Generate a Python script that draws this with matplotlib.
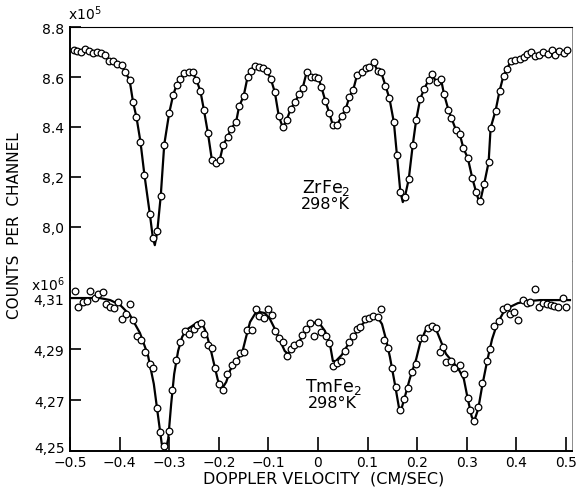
import matplotlib
matplotlib.use("Agg")
import matplotlib.pyplot as plt
from matplotlib.transforms import ScaledTranslation

# ZrFe2, 298 K (counts x 1e5)
ZR_V = [-0.492, -0.485, -0.478, -0.469, -0.461, -0.453, -0.445, -0.437, -0.429, -0.421,
        -0.413, -0.405, -0.396, -0.389, -0.380, -0.373, -0.366, -0.358, -0.350, -0.339,
        -0.333, -0.324, -0.317, -0.310, -0.300, -0.292, -0.285, -0.278, -0.270, -0.261,
        -0.253, -0.245, -0.237, -0.230, -0.222, -0.214, -0.206, -0.198, -0.191, -0.182,
        -0.176, -0.165, -0.159, -0.150, -0.142, -0.136, -0.128, -0.118, -0.110, -0.103,
        -0.095, -0.087, -0.079, -0.071, -0.063, -0.055, -0.046, -0.038, -0.031, -0.023,
        -0.015, -0.007, 0.001, 0.007, 0.015, 0.023, 0.030, 0.038, 0.048, 0.056,
        0.063, 0.071, 0.079, 0.088, 0.096, 0.103, 0.112, 0.120, 0.127, 0.136,
        0.144, 0.153, 0.159, 0.166, 0.175, 0.183, 0.191, 0.198, 0.206, 0.214,
        0.223, 0.230, 0.239, 0.248, 0.254, 0.263, 0.269, 0.278, 0.286, 0.293,
        0.302, 0.311, 0.319, 0.327, 0.335, 0.344, 0.348, 0.358, 0.366, 0.374,
        0.381, 0.389, 0.398, 0.407, 0.416, 0.422, 0.429, 0.437, 0.446, 0.454,
        0.463, 0.471, 0.478, 0.486, 0.495, 0.503]
ZR_C = [8.710, 8.706, 8.700, 8.712, 8.706, 8.697, 8.700, 8.697, 8.689, 8.665,
        8.666, 8.651, 8.650, 8.620, 8.590, 8.501, 8.439, 8.341, 8.208, 8.050,
        7.955, 7.981, 8.124, 8.329, 8.456, 8.528, 8.569, 8.592, 8.616, 8.620,
        8.620, 8.588, 8.543, 8.468, 8.376, 8.268, 8.255, 8.268, 8.329, 8.361,
        8.390, 8.421, 8.483, 8.523, 8.600, 8.626, 8.645, 8.642, 8.637, 8.626,
        8.592, 8.539, 8.443, 8.398, 8.429, 8.472, 8.501, 8.532, 8.555, 8.619,
        8.599, 8.599, 8.596, 8.559, 8.503, 8.455, 8.406, 8.406, 8.445, 8.472,
        8.519, 8.549, 8.610, 8.619, 8.637, 8.639, 8.659, 8.626, 8.622, 8.565,
        8.515, 8.418, 8.288, 8.140, 8.117, 8.191, 8.327, 8.429, 8.512, 8.552,
        8.588, 8.611, 8.579, 8.592, 8.532, 8.468, 8.436, 8.388, 8.370, 8.315,
        8.275, 8.195, 8.137, 8.101, 8.171, 8.258, 8.396, 8.465, 8.544, 8.606,
        8.633, 8.665, 8.669, 8.673, 8.680, 8.693, 8.700, 8.686, 8.689, 8.702,
        8.693, 8.710, 8.690, 8.704, 8.697, 8.709]
# fitted-curve minima that dip below the points
ZR_MIN_V = [-0.329, 0.171, 0.326]
ZR_MIN_C = [7.925, 8.098, 8.092]

# TmFe2, 298 K (counts x 1e6)
TM_V = [-0.490, -0.483, -0.474, -0.465, -0.459, -0.450, -0.443, -0.434, -0.428, -0.419,
        -0.411, -0.403, -0.395, -0.387, -0.379, -0.372, -0.364, -0.357, -0.349, -0.339,
        -0.333, -0.325, -0.318, -0.310, -0.301, -0.295, -0.286, -0.278, -0.269, -0.260,
        -0.251, -0.244, -0.236, -0.230, -0.222, -0.213, -0.207, -0.200, -0.192, -0.183,
        -0.174, -0.165, -0.157, -0.149, -0.144, -0.134, -0.126, -0.118, -0.109, -0.101,
        -0.093, -0.086, -0.079, -0.071, -0.063, -0.055, -0.048, -0.039, -0.032, -0.025,
        -0.016, -0.009, 0.001, 0.007, 0.016, 0.023, 0.030, 0.038, 0.046, 0.054,
        0.062, 0.070, 0.078, 0.085, 0.095, 0.103, 0.111, 0.120, 0.127, 0.134,
        0.141, 0.149, 0.157, 0.165, 0.173, 0.181, 0.189, 0.198, 0.206, 0.214,
        0.222, 0.230, 0.237, 0.245, 0.253, 0.259, 0.269, 0.275, 0.286, 0.295,
        0.302, 0.307, 0.315, 0.323, 0.331, 0.340, 0.347, 0.355, 0.364, 0.372,
        0.381, 0.388, 0.396, 0.404, 0.413, 0.421, 0.428, 0.437, 0.445, 0.453,
        0.461, 0.469, 0.476, 0.483, 0.494, 0.500]
TM_C = [4.3127, 4.3065, 4.3087, 4.3091, 4.3127, 4.3100, 4.3117, 4.3126, 4.3076, 4.3067,
        4.3062, 4.3084, 4.3019, 4.3038, 4.3078, 4.3016, 4.2953, 4.2936, 4.2891, 4.2842,
        4.2827, 4.2670, 4.2575, 4.2522, 4.2578, 4.2742, 4.2859, 4.2927, 4.2973, 4.2960,
        4.2980, 4.2996, 4.3002, 4.2959, 4.2917, 4.2905, 4.2827, 4.2764, 4.2742, 4.2803,
        4.2838, 4.2855, 4.2885, 4.2891, 4.2977, 4.2977, 4.3058, 4.3029, 4.3023, 4.3058,
        4.3035, 4.2971, 4.2944, 4.2927, 4.2875, 4.2901, 4.2917, 4.2924, 4.2958, 4.2980,
        4.3004, 4.2954, 4.3007, 4.2969, 4.2953, 4.2925, 4.2833, 4.2846, 4.2854, 4.2892,
        4.2927, 4.2953, 4.2980, 4.2986, 4.3019, 4.3024, 4.3032, 4.3025, 4.3058, 4.2938,
        4.2905, 4.2825, 4.2751, 4.2662, 4.2705, 4.2748, 4.2810, 4.2842, 4.2943, 4.2943,
        4.2982, 4.2993, 4.2982, 4.2888, 4.2910, 4.2849, 4.2854, 4.2825, 4.2837, 4.2802,
        4.2709, 4.2662, 4.2620, 4.2674, 4.2767, 4.2853, 4.2903, 4.2990, 4.3012, 4.3059,
        4.3065, 4.3038, 4.3046, 4.3016, 4.3095, 4.3083, 4.3084, 4.3136, 4.3067, 4.3083,
        4.3077, 4.3073, 4.3069, 4.3065, 4.3101, 4.3064]
# fitted curve
TM_FIT_V = [-0.500, -0.440, -0.419, -0.399, -0.379, -0.359, -0.343, -0.331, -0.323, -0.315,
            -0.308, -0.302, -0.296, -0.290, -0.282, -0.274, -0.266, -0.254, -0.242, -0.234,
            -0.226, -0.218, -0.210, -0.202, -0.194, -0.185, -0.177, -0.165, -0.153, -0.145,
            -0.137, -0.127, -0.117, -0.107, -0.097, -0.087, -0.077, -0.067, -0.060, -0.052,
            -0.040, -0.028, -0.016, -0.004, 0.004, 0.014, 0.024, 0.030, 0.036, 0.048,
            0.060, 0.073, 0.085, 0.097, 0.109, 0.121, 0.129, 0.137, 0.145, 0.155,
            0.163, 0.167, 0.175, 0.185, 0.198, 0.206, 0.218, 0.228, 0.236, 0.246,
            0.258, 0.270, 0.282, 0.294, 0.302, 0.310, 0.315, 0.323, 0.331, 0.341,
            0.351, 0.361, 0.373, 0.387, 0.403, 0.423, 0.448, 0.478, 0.508]
TM_FIT_C = [4.3101, 4.3101, 4.3093, 4.3074, 4.3034, 4.2964, 4.2878, 4.2764, 4.2646, 4.2529,
            4.2501, 4.2548, 4.2686, 4.2803, 4.2894, 4.2948, 4.2976, 4.2991, 4.3007, 4.3003,
            4.2968, 4.2913, 4.2846, 4.2780, 4.2744, 4.2772, 4.2819, 4.2854, 4.2886, 4.2948,
            4.3007, 4.3039, 4.3046, 4.3042, 4.3019, 4.2980, 4.2936, 4.2893, 4.2882, 4.2901,
            4.2925, 4.2960, 4.2995, 4.3007, 4.2999, 4.2972, 4.2921, 4.2854, 4.2854, 4.2878,
            4.2917, 4.2956, 4.2988, 4.3015, 4.3027, 4.3023, 4.2999, 4.2940, 4.2870, 4.2764,
            4.2674, 4.2658, 4.2713, 4.2784, 4.2862, 4.2925, 4.2980, 4.2995, 4.2988, 4.2940,
            4.2882, 4.2854, 4.2827, 4.2784, 4.2705, 4.2635, 4.2619, 4.2666, 4.2756, 4.2854,
            4.2940, 4.2999, 4.3042, 4.3066, 4.3081, 4.3089, 4.3093, 4.3093, 4.3093]

X_TICKS = [-0.5, -0.4, -0.3, -0.2, -0.1, 0, 0.1, 0.2, 0.3, 0.4, 0.5]
X_LABELS = ["\u22120.5", "\u22120.4", "\u22120.3", "\u22120.2", "\u22120.1", "0",
            "0.1", "0.2", "0.3", "0.4", "0.5"]
ZR_TICKS = [8.0, 8.2, 8.4, 8.6, 8.8]
ZR_LABELS = ["8,0", "8,2", "8.4", "8.6", "8.8"]
TM_TICKS = [4.25, 4.27, 4.29, 4.31]
TM_LABELS = ["4,25", "4,27", "4,29", "4,31"]

plt.rcParams["font.family"] = ["DejaVu Sans"]
plt.rcParams["mathtext.fontset"] = "dejavusans"

fig = plt.figure(figsize=(5.81, 4.89), dpi=100)
left, width = 70 / 581, 501.7 / 581
split = 1 - 262 / 489
ax_top = fig.add_axes([left, split, width, (1 - 28.3 / 489) - split])
ax_bot = fig.add_axes([left, 1 - 452.3 / 489, width, split - (1 - 452.3 / 489)])

ring = dict(marker="o", linestyle="none", markersize=4.8, markerfacecolor="white",
            markeredgecolor="black", markeredgewidth=0.9, zorder=3)

# top panel: curve runs through the points, plus its deeper minima
fit_top = sorted(zip(ZR_V + ZR_MIN_V, ZR_C + ZR_MIN_C))
ax_top.plot([p[0] for p in fit_top], [p[1] for p in fit_top], color="black", lw=1.6, zorder=2)
ax_top.plot(ZR_V, ZR_C, **ring)

ax_bot.plot(TM_FIT_V, TM_FIT_C, color="black", lw=1.6, zorder=2)
ax_bot.plot(TM_V, TM_C, **ring)

for ax in (ax_top, ax_bot):
    ax.set_xlim(-0.5, 0.5115)
    ax.spines["left"].set_linewidth(1.4)
    ax.spines["right"].set_linewidth(0.6)
    ax.spines["right"].set_color("#777777")
    ax.tick_params(direction="in", length=8, width=1.2, labelsize=10, pad=4,
                   colors="black")

ax_top.set_ylim(8.8 - 233.7 / 249, 8.8)
ax_top.spines["bottom"].set_visible(False)
ax_top.spines["top"].set_linewidth(0.8)
ax_top.set_xticks([])
ax_top.set_yticks(ZR_TICKS)
ax_top.set_yticklabels(ZR_LABELS)

ax_bot.set_ylim(4.25, 4.25 + 190.3 / 2550)
ax_bot.spines["top"].set_visible(False)
ax_bot.spines["bottom"].set_linewidth(1.4)
ax_bot.set_yticks(TM_TICKS)
ax_bot.set_yticklabels(TM_LABELS)
ax_bot.set_xticks(X_TICKS)
ax_bot.set_xticklabels(X_LABELS)
ax_bot.tick_params(axis="x", length=10, pad=3)

# the lowest y label sits a little above its tick, clear of "-0.5"
low = ax_bot.get_yticklabels()[0]
low.set_transform(low.get_transform() + ScaledTranslation(0, 5 / 100, fig.dpi_scale_trans))

ax_top.text(-0.033, 8.139, "ZrFe$_2$", fontsize=12.5)
ax_top.text(-0.035, 8.073, "298\u00b0K", fontsize=11.5)
ax_bot.text(-0.026, 4.2736, "TmFe$_2$", fontsize=12.5)
ax_bot.text(-0.020, 4.2674, "298\u00b0K", fontsize=11.5)

fig.text(68 / 581, 1 - 20 / 489, "x10$^5$", fontsize=10, ha="left", va="baseline")
fig.text(31 / 581, 1 - 291 / 489, "x10$^6$", fontsize=10, ha="left", va="baseline")
fig.text(15 / 581, 1 - 226 / 489, "COUNTS  PER  CHANNEL", fontsize=11,
         rotation=90, ha="center", va="center")
fig.text(324 / 581, 1 - 484 / 489, "DOPPLER VELOCITY  (CM/SEC)", fontsize=11.5,
         ha="center", va="baseline")

fig.savefig("out.png", dpi=100)
